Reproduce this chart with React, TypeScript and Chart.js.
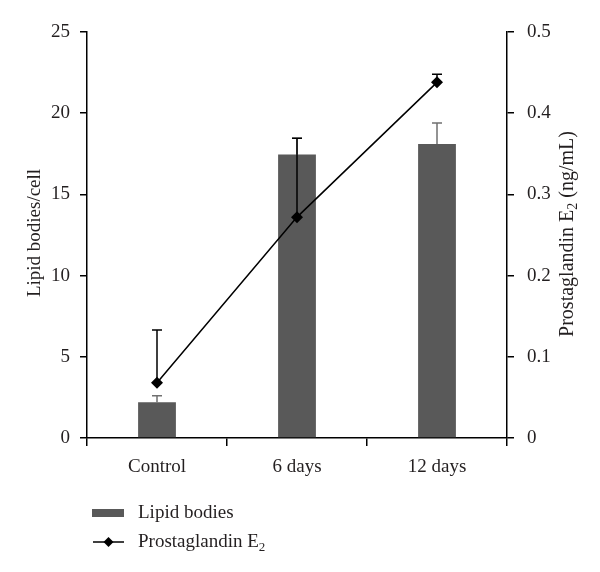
import React, { useEffect, useRef } from "react";
import { Chart, registerables } from "chart.js";

Chart.register(...registerables);

const categories = ["Control", "6 days", "12 days"];
const lipidBodies = [2.2, 17.45, 18.1];
const lipidBodiesErr = [0.4, 1.0, 1.3];
const prostaglandin = [0.068, 0.272, 0.438];
const prostaglandinErr = [0.065, 0.097, 0.01];
const leftTicks = [0, 5, 10, 15, 20, 25];
const rightTicks = [0, 0.1, 0.2, 0.3, 0.4, 0.5];
const rightTickLabels = ["0", "0.1", "0.2", "0.3", "0.4", "0.5"];
const leftTitle = "Lipid bodies/cell";
const rightTitleParts = ["Prostaglandin E", "2", " (ng/mL)"];
const legendBarLabel = "Lipid bodies";
const legendLineParts = ["Prostaglandin E", "2"];

const FONT = "'Liberation Serif', 'Times New Roman', serif";
const TEXT = "#231f20";
const BAR = "#595959";

function drawSubText(ctx: CanvasRenderingContext2D, parts: string[], x: number, y: number, size: number, align: "left" | "center") {
  const main = `${size}px ${FONT}`;
  const sub = `${Math.round(size * 0.68)}px ${FONT}`;
  const widths = parts.map((p, i) => {
    ctx.font = i === 1 ? sub : main;
    return ctx.measureText(p).width;
  });
  const total = widths.reduce((a, b) => a + b, 0);
  let cx = align === "center" ? x - total / 2 : x;
  ctx.textAlign = "left";
  ctx.textBaseline = "middle";
  parts.forEach((p, i) => {
    ctx.font = i === 1 ? sub : main;
    ctx.fillText(p, cx, i === 1 ? y + size * 0.28 : y);
    cx += widths[i];
  });
}

const errorBarPlugin = {
  id: "errorBars",
  afterDatasetsDraw(chart: any) {
    const ctx = chart.ctx;
    const specs = [
      { idx: 0, vals: lipidBodies, errs: lipidBodiesErr, axis: "y", color: "#707070" },
      { idx: 1, vals: prostaglandin, errs: prostaglandinErr, axis: "y1", color: "#000000" },
    ];
    ctx.save();
    specs.forEach((s) => {
      const meta = chart.getDatasetMeta(s.idx);
      const scale = chart.scales[s.axis];
      meta.data.forEach((el: any, i: number) => {
        const x = el.x;
        const y0 = scale.getPixelForValue(s.vals[i]);
        const y1 = scale.getPixelForValue(s.vals[i] + s.errs[i]);
        ctx.strokeStyle = s.color;
        ctx.lineWidth = 1.5;
        ctx.beginPath();
        ctx.moveTo(x, y0);
        ctx.lineTo(x, y1);
        ctx.moveTo(x - 5, y1);
        ctx.lineTo(x + 5, y1);
        ctx.stroke();
      });
    });
    ctx.restore();
  },
};

const textPlugin = {
  id: "customText",
  afterDraw(chart: any) {
    const ctx = chart.ctx;
    const area = chart.chartArea;
    const midY = (area.top + area.bottom) / 2;
    ctx.save();
    ctx.fillStyle = TEXT;
    // left title
    ctx.save();
    ctx.translate(35, midY - 2);
    ctx.rotate(-Math.PI / 2);
    ctx.font = `19px ${FONT}`;
    ctx.textAlign = "center";
    ctx.textBaseline = "middle";
    ctx.fillText(leftTitle, 0, 0);
    ctx.restore();
    // right title
    ctx.save();
    ctx.translate(568, midY - 1);
    ctx.rotate(-Math.PI / 2);
    drawSubText(ctx, rightTitleParts, 0, 0, 20, "center");
    ctx.restore();
    // legend
    ctx.fillStyle = BAR;
    ctx.fillRect(92, 509, 32, 8);
    ctx.fillStyle = TEXT;
    ctx.font = `19px ${FONT}`;
    ctx.textAlign = "left";
    ctx.textBaseline = "middle";
    ctx.fillText(legendBarLabel, 138, 513);
    ctx.strokeStyle = "#000";
    ctx.lineWidth = 1.5;
    ctx.beginPath();
    ctx.moveTo(93, 542);
    ctx.lineTo(124, 542);
    ctx.stroke();
    ctx.fillStyle = "#000";
    ctx.beginPath();
    ctx.moveTo(108.5, 537);
    ctx.lineTo(113.5, 542);
    ctx.lineTo(108.5, 547);
    ctx.lineTo(103.5, 542);
    ctx.closePath();
    ctx.fill();
    ctx.fillStyle = TEXT;
    drawSubText(ctx, legendLineParts, 138, 542, 19, "left");
    ctx.restore();
  },
};

export default function App() {
  const ref = useRef<HTMLCanvasElement>(null);
  useEffect(() => {
    document.body.style.margin = "0";
    const canvas = ref.current!;
    const tickFont = { family: FONT, size: 19 };
    const chart = new Chart(canvas, {
      type: "bar",
      data: {
        labels: categories,
        datasets: [
          {
            type: "bar",
            label: legendBarLabel,
            data: lipidBodies,
            backgroundColor: BAR,
            yAxisID: "y",
            categoryPercentage: 1,
            barPercentage: 0.27,
            order: 2,
          },
          {
            type: "line",
            label: legendLineParts.join(""),
            data: prostaglandin,
            borderColor: "#000",
            backgroundColor: "#000",
            borderWidth: 1.5,
            pointStyle: "rectRot",
            pointRadius: 6,
            pointBackgroundColor: "#000",
            pointBorderWidth: 0,
            yAxisID: "y1",
            order: 1,
          },
        ] as any,
      },
      options: {
        responsive: false,
        animation: false,
        layout: { padding: { top: 32, left: 0, right: 0, bottom: 0 } },
        plugins: { legend: { display: false }, tooltip: { enabled: false } },
        scales: {
          x: {
            grid: { display: true, drawOnChartArea: false, drawTicks: true, tickLength: 8, color: "#000", offset: true, lineWidth: 1.5 },
            border: { display: true, color: "#000", width: 1.5 },
            ticks: { font: tickFont, color: TEXT, padding: 10 },
            afterFit: (s: any) => { s.height = 134; },
          },
          y: {
            position: "left",
            min: 0,
            max: 25,
            afterBuildTicks: (s: any) => { s.ticks = leftTicks.map((v) => ({ value: v })); },
            grid: { drawOnChartArea: false, drawTicks: true, tickLength: 7, color: "#000", lineWidth: 1.5 },
            border: { display: true, color: "#000", width: 1.5 },
            ticks: { font: tickFont, color: TEXT, padding: 10, callback: (v: any) => String(v) },
            afterFit: (s: any) => { s.width = 87; },
          },
          y1: {
            position: "right",
            min: 0,
            max: 0.5,
            afterBuildTicks: (s: any) => { s.ticks = rightTicks.map((v) => ({ value: v })); },
            grid: { drawOnChartArea: false, drawTicks: true, tickLength: 7, color: "#000", lineWidth: 1.5 },
            border: { display: true, color: "#000", width: 1.5 },
            ticks: {
              font: tickFont,
              color: TEXT,
              padding: 13,
              callback: (v: any) => {
                const i = rightTicks.findIndex((t) => Math.abs(t - Number(v)) < 1e-9);
                return i >= 0 ? rightTickLabels[i] : "";
              },
            },
            afterFit: (s: any) => { s.width = 93; },
          },
        },
      } as any,
      plugins: [errorBarPlugin, textPlugin],
    });
    return () => chart.destroy();
  }, []);
  return <canvas ref={ref} width={600} height={572} style={{ display: "block", width: 600, height: 572 }} />;
}
